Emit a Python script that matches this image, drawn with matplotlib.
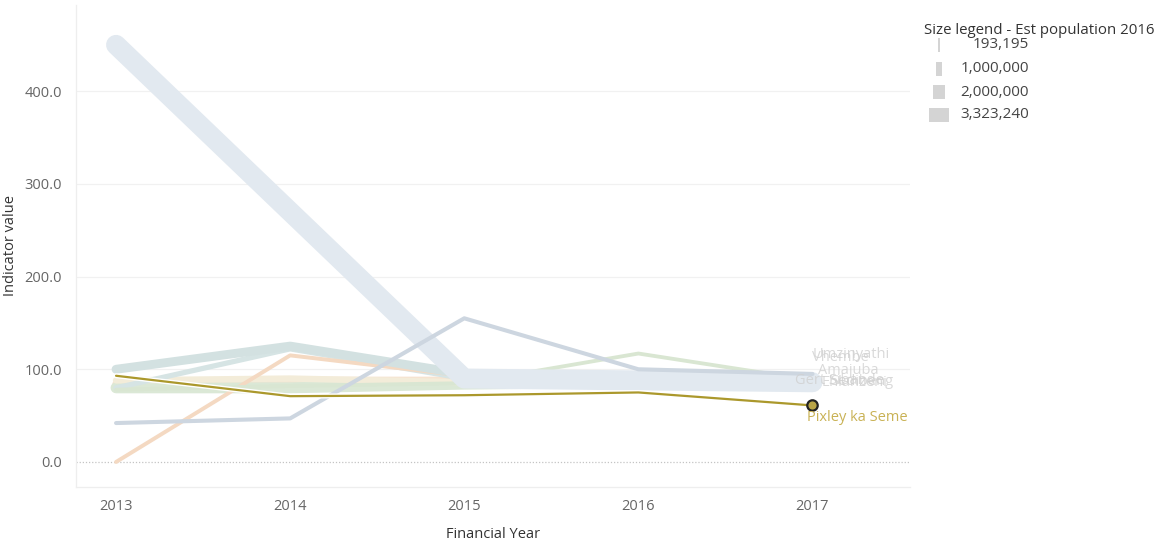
import matplotlib.pyplot as plt
from matplotlib.patches import Rectangle

plt.rcParams['font.family'] = ['Open Sans', 'DejaVu Sans']

# financial years on the x axis
years = [2013, 2014, 2015, 2016, 2017]

# districts, est. population 2016 (drives line width), colour and values per year
names = ['Ekurhuleni', 'Gert Sibande', 'Ehlanzeni', 'Sedibeng', 'Ugu',
         'Amajuba', 'Umzinyathi', 'Vhembe', 'Harry Gwala', 'Pixley ka Seme']
pops = [3323240, 1158573, 1754931, 957528, 753336,
        531327, 554882, 1393949, 510865, 193195]
colors = ['#e2e9f0', '#f6e3d0', '#dbe8d6', '#f3ecd9', '#d6e4e4',
          '#f4d9c2', '#cdd6e0', '#d3e1e1', '#d9e6d2', '#ab982c']
values = [
    [450, 270, 90, 88, 86],
    [84, 88, 88, 85, 84],
    [80, 80, 84, 86, 84],
    [88, 90, 86, 84, 83],
    [80, 122, 90, 88, 86],
    [0, 115, 93, 88, 87],
    [42, 47, 155, 100, 95],
    [100, 125, 95, 90, 90],
    [78, 82, 85, 117, 88],
    [93, 71, 72, 75, 61],
]
labelled = ['Vhembe', 'Umzinyathi', 'Amajuba', 'Gert Sibande', 'Ehlanzeni', 'Sedibeng']

# size legend
legend_pops = [193195, 1000000, 2000000, 3323240]

pmin, pmax = min(pops), max(pops)


def width_px(p):
    return 2 + 18 * (p - pmin) / (pmax - pmin)


W, H = 1162, 542
fig = plt.figure(figsize=(W / 100, H / 100), dpi=100)
ax = fig.add_axes([76 / W, (H - 487) / H, (910 - 76) / W, (487 - 5) / H])

ax.set_xlim(2012.77, 2017.56)
ax.set_ylim(-27, 493)

for y in [100, 200, 300, 400]:
    ax.axhline(y, color='#f1f1f1', lw=0.9, zorder=0)
ax.axhline(0, color='#c4c4c4', lw=0.9, ls=(0, (1, 1.5)), zorder=0)

# faint lines (everything but the highlighted district), big one drawn later
order = [1, 2, 3, 4, 5, 8, 7, 0, 6]
for i in order:
    ax.plot(years, values[i], color=colors[i], lw=width_px(pops[i]) * 0.72,
            solid_capstyle='round', solid_joinstyle='round', zorder=2)

# highlighted district
hi = names.index('Pixley ka Seme')
ax.plot(years, values[hi], color='white', lw=3.6, solid_capstyle='round', zorder=4)
ax.plot(years, values[hi], color=colors[hi], lw=1.6, solid_capstyle='round', zorder=5)
ax.plot(years[-1], values[hi][-1], 'o', ms=7.5, mfc='#b8a446', mec='#222222',
        mew=1.6, zorder=6)
ax.text(years[-1] - 0.03, values[hi][-1] - 5, 'Pixley ka Seme', color='#c9b255',
        fontsize=10.5, va='top', ha='left', zorder=6)

# overlapping end labels of the faint lines
label_pos = {'Vhembe': (0.0, 113), 'Umzinyathi': (0.0, 116), 'Amajuba': (0.03, 99),
             'Gert Sibande': (-0.1, 88), 'Ehlanzeni': (0.05, 86), 'Sedibeng': (0.1, 87)}
for n in labelled:
    dx, yv = label_pos[n]
    ax.text(years[-1] + dx, yv, n, color='#d0d0d0', alpha=0.8, fontsize=10.5,
            va='center', ha='left', zorder=3)

ax.set_yticks([0, 100, 200, 300, 400])
ax.set_yticklabels(['%.1f' % v for v in [0, 100, 200, 300, 400]])
ax.set_xticks(years)
ax.tick_params(length=0, colors='#666666', labelsize=10.5)
ax.tick_params(axis='y', pad=10)
ax.tick_params(axis='x', pad=9)
for s in ['top', 'right']:
    ax.spines[s].set_visible(False)
for s in ['left', 'bottom']:
    ax.spines[s].set_color('#eeeeee')
    ax.spines[s].set_linewidth(0.9)

ax.set_ylabel('Indicator value', fontsize=10.5, color='#333333')
ax.set_xlabel('Financial Year', fontsize=10.5, color='#333333')
ax.yaxis.set_label_coords((18 - 76) / 834, 0.5)
ax.xaxis.set_label_coords(0.5, -(527 - 487) / 482)

# size legend in the top right corner
fig.text(924 / W, 1 - 30 / H, 'Size legend - Est population 2016', fontsize=10.8,
         color='#333333', va='center', ha='left')
rows = [45, 69, 92, 115]
for p, ry in zip(legend_pops, rows):
    w = width_px(p)
    fig.add_artist(Rectangle(((939 - w / 2) / W, 1 - (ry + 7) / H), w / W, 14 / H,
                             transform=fig.transFigure, color='#d4d4d4', lw=0))
    fig.text(1029 / W, 1 - ry / H, format(p, ','), fontsize=11, color='#444444',
             va='center', ha='right')

fig.savefig('out.png', dpi=100)
